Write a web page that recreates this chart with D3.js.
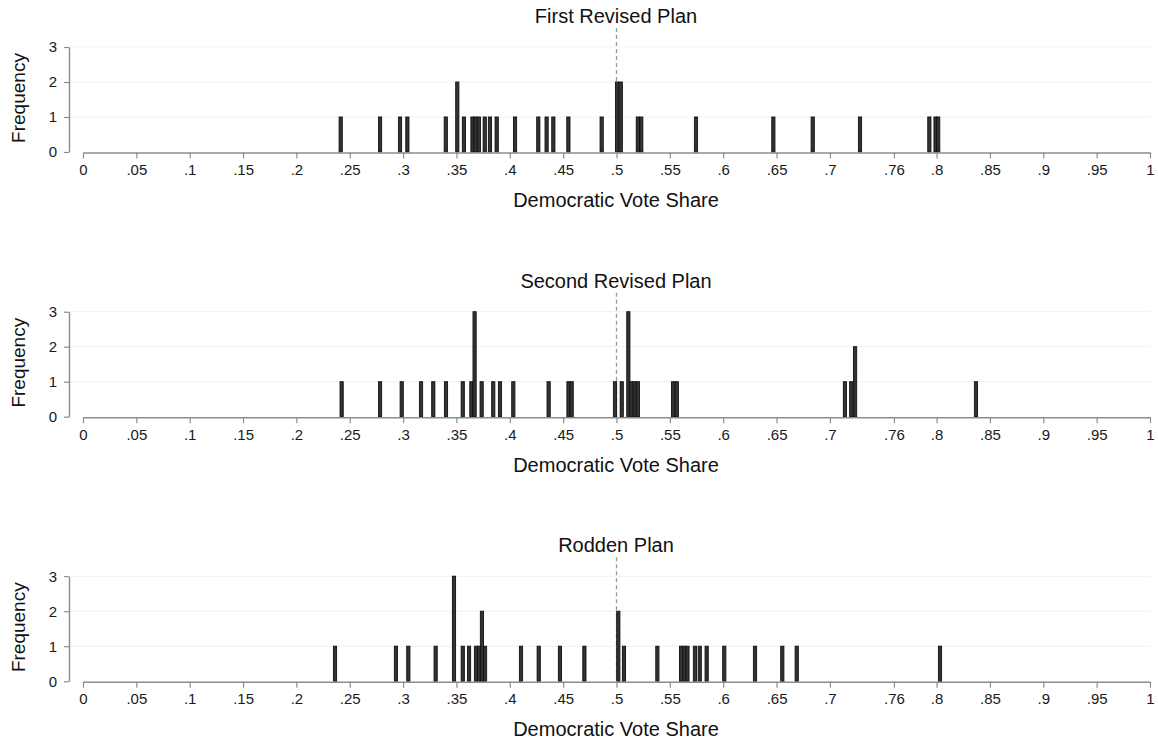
<!DOCTYPE html>
<html>
<head>
<meta charset="utf-8">
<script src="https://cdn.jsdelivr.net/npm/d3@7/dist/d3.min.js"></script>
<style>
  html, body { margin: 0; padding: 0; background: #fff; }
  svg { display: block; font-family: "Liberation Sans", Arial, Helvetica, sans-serif; }
</style>
</head>
<body>
<svg id="chart" width="1158" height="742"></svg>
<script>
// ---- data ----
const panelTitles = ["First Revised Plan", "Second Revised Plan", "Rodden Plan"];

const firstShares = [0.2415, 0.2784, 0.2971, 0.3040, 0.3400, 0.3508, 0.3570, 0.3650, 0.3680, 0.3710,
  0.3765, 0.3814, 0.3877, 0.4049, 0.4267, 0.4345, 0.4408, 0.4549, 0.4861, 0.5005, 0.5040,
  0.5200, 0.5232, 0.5745, 0.6470, 0.6839, 0.7282, 0.7932, 0.7990, 0.8015];
const firstCounts = [1, 1, 1, 1, 1, 2, 1, 1, 1, 1,
  1, 1, 1, 1, 1, 1, 1, 1, 1, 2, 2,
  1, 1, 1, 1, 1, 1, 1, 1, 1];

const secondShares = [0.2424, 0.2784, 0.2987, 0.3168, 0.3283, 0.3402, 0.3559, 0.3640, 0.3670, 0.3736,
  0.3845, 0.3908, 0.4033, 0.4364, 0.4550, 0.4580, 0.4986, 0.5049, 0.5111, 0.5140, 0.5170, 0.5200,
  0.5530, 0.5565, 0.7141, 0.7200, 0.7236, 0.8369];
const secondCounts = [1, 1, 1, 1, 1, 1, 1, 1, 3, 1,
  1, 1, 1, 1, 1, 1, 1, 1, 3, 1, 1, 1,
  1, 1, 1, 1, 2, 1];

const roddenShares = [0.2362, 0.2933, 0.3049, 0.3305, 0.3477, 0.3559, 0.3618, 0.3683, 0.3711, 0.3739,
  0.3768, 0.4105, 0.4271, 0.4470, 0.4699, 0.5017, 0.5070, 0.5383, 0.5605, 0.5635, 0.5665,
  0.5735, 0.5780, 0.5845, 0.6010, 0.6298, 0.6554, 0.6689, 0.8032];
const roddenCounts = [1, 1, 1, 1, 3, 1, 1, 1, 1, 2,
  1, 1, 1, 1, 1, 2, 1, 1, 1, 1, 1,
  1, 1, 1, 1, 1, 1, 1, 1];

const xTickValues = [0, 0.05, 0.1, 0.15, 0.2, 0.25, 0.3, 0.35, 0.4, 0.45, 0.5, 0.55, 0.6, 0.65, 0.7, 0.76, 0.8, 0.85, 0.9, 0.95, 1];
const xTickLabels = ["0", ".05", ".1", ".15", ".2", ".25", ".3", ".35", ".4", ".45", ".5", ".55", ".6", ".65", ".7", ".76", ".8", ".85", ".9", ".95", "1"];
const yTicks = [0, 1, 2, 3];
const binWidth = 0.003;
const cutoff = 0.5;
const xTitle = "Democratic Vote Share";
const yTitle = "Frequency";

// ---- layout ----
const svg = d3.select("#chart");
svg.append("rect").attr("width", 1158).attr("height", 742).attr("fill", "#fff");

const panelData = [
  { shares: firstShares, counts: firstCounts },
  { shares: secondShares, counts: secondCounts },
  { shares: roddenShares, counts: roddenCounts }
];
const baseY = [152, 416.7, 681.2];

const x = d3.scaleLinear().domain([0, 1]).range([83, 1150]);

panelData.forEach((pd, i) => {
  const y0 = baseY[i];
  const y = d3.scaleLinear().domain([0, 3]).range([y0, y0 - 105]);
  const g = svg.append("g");

  // faint gridlines
  g.selectAll("line.grid").data(yTicks.slice(1)).enter().append("line")
    .attr("x1", 70).attr("x2", 1150)
    .attr("y1", d => y(d)).attr("y2", d => y(d))
    .attr("stroke", "#f1f1f1").attr("stroke-width", 1);

  // dashed cutoff
  g.append("line")
    .attr("x1", x(cutoff)).attr("x2", x(cutoff))
    .attr("y1", y0 - 124).attr("y2", y0)
    .attr("stroke", "#999").attr("stroke-width", 1.3)
    .attr("stroke-dasharray", "4,3");

  // bars
  const rows = pd.shares.map((s, j) => ({ s, c: pd.counts[j] }));
  g.selectAll("rect.bar").data(rows).enter().append("rect")
    .attr("x", d => x(d.s - binWidth / 2))
    .attr("width", d => x(d.s + binWidth / 2) - x(d.s - binWidth / 2))
    .attr("y", d => y(d.c))
    .attr("height", d => y(0) - y(d.c))
    .attr("fill", "#333")
    .attr("stroke", "#111")
    .attr("stroke-width", 0.9);

  // x axis
  const xAxis = d3.axisBottom(x)
    .tickValues(xTickValues)
    .tickFormat((d, k) => xTickLabels[k])
    .tickSize(6).tickSizeOuter(0).tickPadding(6);
  const gx = g.append("g").attr("transform", `translate(0,${y0 + 0.5})`).call(xAxis);
  gx.select(".domain").attr("stroke", "#8c8c8c").attr("stroke-width", 1.4);
  gx.selectAll(".tick line").attr("stroke", "#8c8c8c").attr("stroke-width", 1.2);
  gx.selectAll(".tick text").attr("fill", "#1a1a1a").attr("font-size", 15)
    .attr("font-family", "'Liberation Sans', Arial, sans-serif");

  // y axis
  const yAxis = d3.axisLeft(y).tickValues(yTicks).tickFormat(d3.format("d"))
    .tickSize(5).tickSizeOuter(0).tickPadding(7);
  const gy = g.append("g").attr("transform", "translate(69,0)").call(yAxis);
  gy.select(".domain").attr("stroke", "#8c8c8c").attr("stroke-width", 1.4);
  gy.selectAll(".tick line").attr("stroke", "#8c8c8c").attr("stroke-width", 1.2);
  gy.selectAll(".tick text").attr("fill", "#1a1a1a").attr("font-size", 15)
    .attr("font-family", "'Liberation Sans', Arial, sans-serif");

  // titles
  g.append("text").attr("x", 616).attr("y", y0 - 134)
    .attr("text-anchor", "middle").attr("dominant-baseline", "middle")
    .attr("font-size", 20).attr("fill", "#111").text(panelTitles[i]);
  g.append("text").attr("x", 616).attr("y", y0 + 50)
    .attr("text-anchor", "middle").attr("dominant-baseline", "middle")
    .attr("font-size", 20).attr("fill", "#111").text(xTitle);
  g.append("text")
    .attr("transform", `translate(20,${y0 - 54}) rotate(-90)`)
    .attr("text-anchor", "middle").attr("dominant-baseline", "middle")
    .attr("font-size", 19).attr("fill", "#111").text(yTitle);
});
</script>
</body>
</html>
